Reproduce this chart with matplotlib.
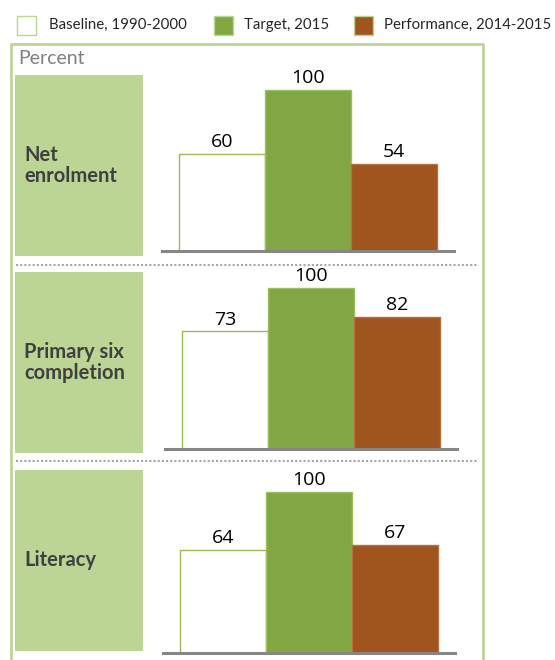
import matplotlib
matplotlib.use("Agg")
import matplotlib.pyplot as plt
from matplotlib.patches import Rectangle
from matplotlib.lines import Line2D

plt.rcParams['font.family'] = ['Lato', 'DejaVu Sans']

# data
indicators = ["Net\nenrolment", "Primary six\ncompletion", "Literacy"]
series = ["Baseline, 1990-2000", "Target, 2015", "Performance, 2014-2015"]
baseline = [60, 73, 64]
target = [100, 100, 100]
performance = [54, 82, 67]

W, H = 555, 660
fig = plt.figure(figsize=(W / 100, H / 100), dpi=100)

frame_green = "#bcd595"
bar_green = "#82a742"
bar_brown = "#a0541e"
dark = "#404040"

def fx(px):
    return px / W

def fy(py):
    return 1 - py / H

# outer frame (open at bottom)
fig.add_artist(Line2D([fx(11), fx(11), fx(483), fx(483)],
                      [0, fy(44), fy(44), 0], color=frame_green, lw=2))

# legend
colors = ["white", bar_green, bar_brown]
leg_x = [17, 214, 354]
text_x = [49, 244, 384]
for i in range(3):
    fig.add_artist(Rectangle((fx(leg_x[i]), fy(35)), fx(19), 19 / H,
                             facecolor=colors[i], edgecolor=frame_green, lw=1))
    fig.text(fx(text_x[i]), fy(25), series[i], fontsize=10.8, color="#262626",
             va="center", ha="left")

fig.text(fx(18), fy(58), "Percent", fontsize=14, color="#808080", va="center")

# panels: (label box top, bottom, axis-line y, bars left x)
panels = [(75, 256, 251, 179), (272, 453, 449, 182), (470, 651, 653, 180)]
px_per_unit = 1.61
unit_w = 86
for i, (bt, bb, ay, bx) in enumerate(panels):
    fig.add_artist(Rectangle((fx(15), fy(bb)), fx(128), (bb - bt) / H,
                             facecolor=frame_green, edgecolor="none"))
    fig.text(fx(24), fy((bt + bb) / 2), indicators[i], fontsize=14.5,
             fontweight="bold", color=dark, va="center", ha="left",
             linespacing=1.05)

    ax_left = bx - 0.2 * unit_w
    ax_w = 3.4 * unit_w
    ax_h = 175
    ax = fig.add_axes([fx(ax_left), fy(ay), fx(ax_w), ax_h / H])
    ax.set_xlim(-0.7, 2.7)
    ax.set_ylim(0, ax_h / px_per_unit)
    vals = [baseline[i], target[i], performance[i]]
    edges = ["#9bbb59", "#9cc05a", "#b5713f"]
    bars = ax.bar([0, 1, 2], vals, width=1.0, color=colors,
                  edgecolor=edges, linewidth=1, zorder=2)
    for b, v in zip(bars, vals):
        ax.annotate(str(v), (b.get_x() + b.get_width() / 2, v),
                    xytext=(0, 5), textcoords="offset points",
                    ha="center", va="baseline", fontsize=14, color="black",
                    family=["Open Sans", "DejaVu Sans"])
    ax.axhline(0, color="#868686", lw=2.2, zorder=3, clip_on=False)
    ax.axis("off")
    ax.patch.set_visible(False)

# dotted separators
for sy in [265, 461]:
    fig.add_artist(Line2D([fx(16), fx(477)], [fy(sy), fy(sy)],
                          color="#a6a6a6", lw=1.5, linestyle=(0, (1, 1))))

fig.savefig("out.png", dpi=100)
